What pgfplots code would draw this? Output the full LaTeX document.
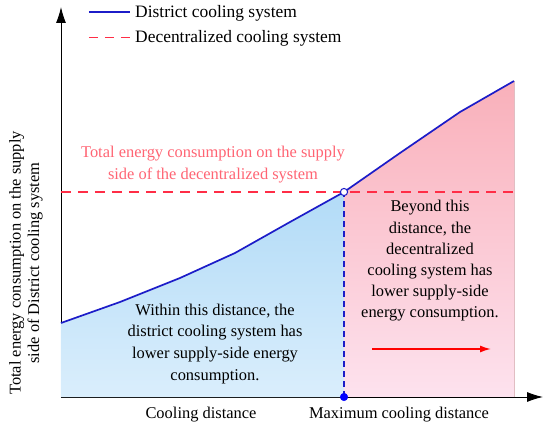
\documentclass[border=0pt]{standalone}
\usepackage{pgfplots}
\pgfplotsset{compat=1.18}
\usepackage{fontspec}
\setmainfont{Liberation Serif}
\usetikzlibrary{arrows.meta}

\definecolor{dcblue}{RGB}{28,28,200}
\definecolor{dcred}{RGB}{255,45,70}
\definecolor{txtred}{RGB}{255,100,115}
\definecolor{bluetop}{RGB}{178,219,247}
\definecolor{bluebot}{RGB}{218,238,252}
\definecolor{pinktop}{RGB}{249,176,186}
\definecolor{pinkbot}{RGB}{253,226,238}
\definecolor{pinkedge}{RGB}{225,190,195}

\begin{document}
\begin{tikzpicture}
\begin{axis}[
  scale only axis,
  width=482bp, height=390bp,
  xmin=0, xmax=482, ymin=0, ymax=390,
  axis x line=bottom, axis y line=left,
  axis line style={line width=0.9bp, -{Latex[length=16bp,width=10bp]}},
  xtick=\empty, ytick=\empty,
  clip=false,
  font=\fontsize{16.5}{22}\selectfont,
  legend style={at={(axis cs:27,394)}, anchor=north west, draw=none, fill=none,
    font=\fontsize{17.5}{20}\selectfont, row sep=8bp, inner sep=0pt},
  legend cell align=left,
]
% filled regions under the curve
\addplot[draw=none, top color=bluetop, bottom color=bluebot, forget plot]
  coordinates {(0,74) (59,95) (119,119) (174,144) (229,175) (283,205)} \closedcycle;
\addplot[draw=none, top color=pinktop, bottom color=pinkbot, forget plot]
  coordinates {(283,205) (339,244) (399,285) (453,316)} \closedcycle;
\addplot[pinkedge, line width=0.8bp, forget plot] coordinates {(453,0) (453,316)};

% district cooling curve
\addplot[draw=dcblue, line width=1.7bp, forget plot]
  coordinates {(0,74) (59,95) (119,119) (174,144) (229,175) (283,205) (339,244) (399,285) (453,316)};
% decentralized level
\addplot[draw=dcred, line width=1.5bp, dash pattern=on 10bp off 7bp, forget plot]
  coordinates {(0,205) (453,205)};
\addlegendimage{legend image code/.code={%
  \draw[dcblue, line width=1.6bp] (0bp,0bp) -- (41bp,0bp); \path (44bp,0bp);}}
\addlegendentry{District cooling system}
\addlegendimage{legend image code/.code={%
  \draw[dcred, line width=1.6bp, dash pattern=on 9bp off 7bp] (0bp,0bp) -- (41bp,0bp); \path (44bp,0bp);}}
\addlegendentry{Decentralized cooling system}

\addplot[dcblue, line width=1.2bp, dash pattern=on 6bp off 4bp, forget plot]
  coordinates {(283,0) (283,205)};
\addplot[only marks, mark=*, mark size=3.6bp, mark options={fill=white, draw=dcblue, line width=1bp}, forget plot]
  coordinates {(283,205)};
\addplot[only marks, mark=*, mark size=3.8bp, mark options={fill=blue, draw=blue}, forget plot]
  coordinates {(283,0)};
\addplot[red, line width=1.5bp, -{Latex[length=11bp,width=7bp]}, forget plot]
  coordinates {(311,48) (430,48)};

\node[txtred, align=center] at (axis cs:152,232)
  {Total energy consumption on the supply\\side of the decentralized system};
\node[align=center] at (axis cs:154,53)
  {Within this distance, the\\district cooling system has\\lower supply-side energy\\consumption.};
\node[align=center, font=\fontsize{16.5}{21.3}\selectfont] at (axis cs:369,136)
  {Beyond this\\distance, the\\decentralized\\cooling system has\\lower supply-side\\energy consumption.};
\node at (axis cs:140,-18) {Cooling distance};
\node at (axis cs:338,-18) {Maximum cooling distance};
\node[rotate=90, align=center, font=\fontsize{16.5}{18.5}\selectfont] at (axis cs:-35,134)
  {Total energy consumption on the supply\\side of District cooling system};
\end{axis}
\pgfresetboundingbox
\path (-61bp,-35bp) rectangle (489bp,397bp);
\end{tikzpicture}
\end{document}
